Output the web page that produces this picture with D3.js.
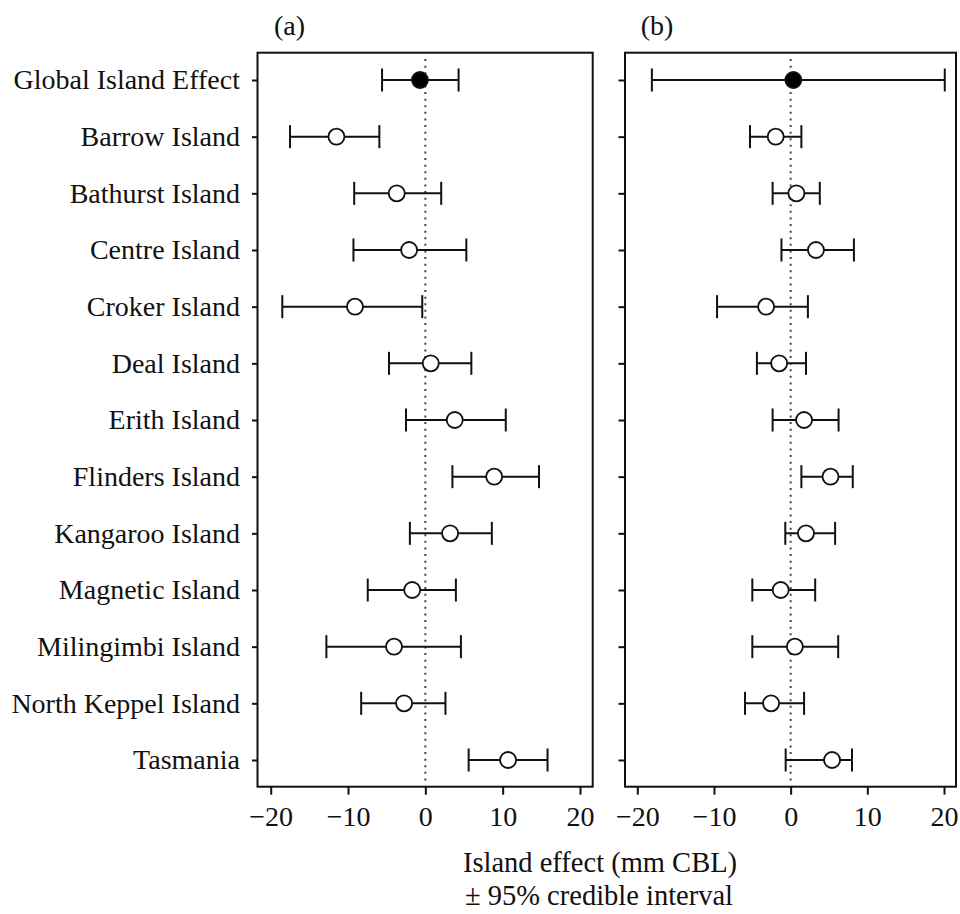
<!DOCTYPE html>
<html>
<head>
<meta charset="utf-8">
<script src="https://cdn.jsdelivr.net/npm/d3@7"></script>
<style>
  body { margin: 0; background: #fff; }
  text { font-family: "Liberation Serif", "Times New Roman", serif; fill: #111; }
</style>
</head>
<body>
<div id="chart"></div>
<script>
// Site names, top to bottom
const sites = [
  'Global Island Effect', 'Barrow Island', 'Bathurst Island', 'Centre Island',
  'Croker Island', 'Deal Island', 'Erith Island', 'Flinders Island',
  'Kangaroo Island', 'Magnetic Island', 'Milingimbi Island',
  'North Keppel Island', 'Tasmania'
];

// Panel (a): estimates and 95% credible interval
const estA = [-0.7, -11.5, -3.7, -2.1, -9.1, 0.7, 3.8, 8.9, 3.2, -1.7, -4.05, -2.75, 10.7];
const lowA = [-5.6, -17.5, -9.2, -9.3, -18.5, -4.7, -2.5, 3.5, -2.0, -7.45, -12.8, -8.3, 5.6];
const highA = [4.3, -5.95, 2.05, 5.3, -0.4, 5.95, 10.4, 14.7, 8.6, 3.95, 4.6, 2.6, 15.8];

// Panel (b)
const estB = [0.35, -1.95, 0.75, 3.3, -3.2, -1.5, 1.75, 5.2, 2.0, -1.3, 0.55, -2.55, 5.4];
const lowB = [-18.1, -5.3, -2.35, -1.2, -9.6, -4.4, -2.35, 1.4, -0.7, -5.0, -5.0, -5.95, -0.65];
const highB = [20.1, 1.4, 3.8, 8.25, 2.25, 2.0, 6.25, 8.1, 5.8, 3.2, 6.2, 1.75, 8.0];

const xTicks = [-20, -10, 0, 10, 20];

const width = 960, height = 914;
const fontSize = 28;
const serif = '"Liberation Serif", "Times New Roman", serif';

const svg = d3.select('#chart')
  .append('svg')
  .attr('width', width)
  .attr('height', height);

// Shared vertical layout
const plotTop = 52.7, plotBottom = 786.7;
const y = d3.scaleLinear().domain([0, sites.length - 1]).range([80, 760]);

const panels = [
  { label: '(a)', left: 257.5, right: 592.7, x0: 270.7, x1: 580, est: estA, low: lowA, high: highA },
  { label: '(b)', left: 625, right: 956, x0: 637.3, x1: 944, est: estB, low: lowB, high: highB }
];

panels.forEach((p, pi) => {
  const x = d3.scaleLinear().domain([-20, 20]).range([p.x0, p.x1]);
  const g = svg.append('g');

  // Box
  g.append('rect')
    .attr('x', p.left).attr('y', plotTop)
    .attr('width', p.right - p.left).attr('height', plotBottom - plotTop)
    .attr('fill', 'none').attr('stroke', '#111').attr('stroke-width', 2);

  // Zero reference line
  g.append('line')
    .attr('x1', x(0)).attr('x2', x(0))
    .attr('y1', y(-0.37)).attr('y2', y(sites.length - 1 + 0.37))
    .attr('stroke', '#444').attr('stroke-width', 2)
    .attr('stroke-dasharray', '2,4.6');

  // X axis
  const xAxis = g.append('g')
    .attr('transform', `translate(0,${plotBottom})`)
    .call(d3.axisBottom(x).tickValues(xTicks).tickSize(8).tickPadding(11)
      .tickFormat(d => d < 0 ? '\u2212' + Math.abs(d) : d));
  xAxis.select('.domain').remove();
  xAxis.selectAll('line').attr('stroke', '#111').attr('stroke-width', 2);
  xAxis.selectAll('text').attr('font-size', fontSize)
    .attr('font-family', serif).attr('fill', '#111');

  // Y ticks (labels only on the first panel)
  const yAxis = g.append('g')
    .attr('transform', `translate(${p.left},0)`)
    .call(d3.axisLeft(y).tickValues(d3.range(sites.length)).tickSize(pi === 0 ? 5.5 : 6.5)
      .tickPadding(12).tickFormat(i => pi === 0 ? sites[i] : ''));
  yAxis.select('.domain').remove();
  yAxis.selectAll('line').attr('stroke', '#111').attr('stroke-width', 2);
  yAxis.selectAll('text').attr('font-size', fontSize)
    .attr('font-family', serif).attr('fill', '#111');

  // Intervals
  const rows = g.append('g')
    .selectAll('g')
    .data(sites.map((s, i) => ({ i, est: p.est[i], low: p.low[i], high: p.high[i] })))
    .join('g');

  rows.append('line')
    .attr('x1', d => x(d.low)).attr('x2', d => x(d.high))
    .attr('y1', d => y(d.i)).attr('y2', d => y(d.i))
    .attr('stroke', '#111').attr('stroke-width', 2);

  rows.selectAll('line.cap')
    .data(d => [{ v: d.low, i: d.i }, { v: d.high, i: d.i }])
    .join('line')
    .attr('class', 'cap')
    .attr('x1', d => x(d.v)).attr('x2', d => x(d.v))
    .attr('y1', d => y(d.i) - 11.5).attr('y2', d => y(d.i) + 11.5)
    .attr('stroke', '#111').attr('stroke-width', 2);

  rows.append('circle')
    .attr('cx', d => x(d.est)).attr('cy', d => y(d.i))
    .attr('r', 8)
    .attr('fill', d => d.i === 0 ? '#000' : '#fff')
    .attr('stroke', '#111').attr('stroke-width', 1.8);

  // Panel label
  svg.append('text')
    .attr('x', p.left + 32).attr('y', 35)
    .attr('text-anchor', 'middle')
    .attr('font-size', fontSize)
    .text(p.label);
});

// X axis title
svg.append('text')
  .attr('x', 600).attr('y', 872)
  .attr('text-anchor', 'middle')
  .attr('font-size', 28.5)
  .text('Island effect (mm CBL)');
svg.append('text')
  .attr('x', 599).attr('y', 905)
  .attr('text-anchor', 'middle')
  .attr('font-size', 28.5)
  .text('\u00b1 95% credible interval');
</script>
</body>
</html>
